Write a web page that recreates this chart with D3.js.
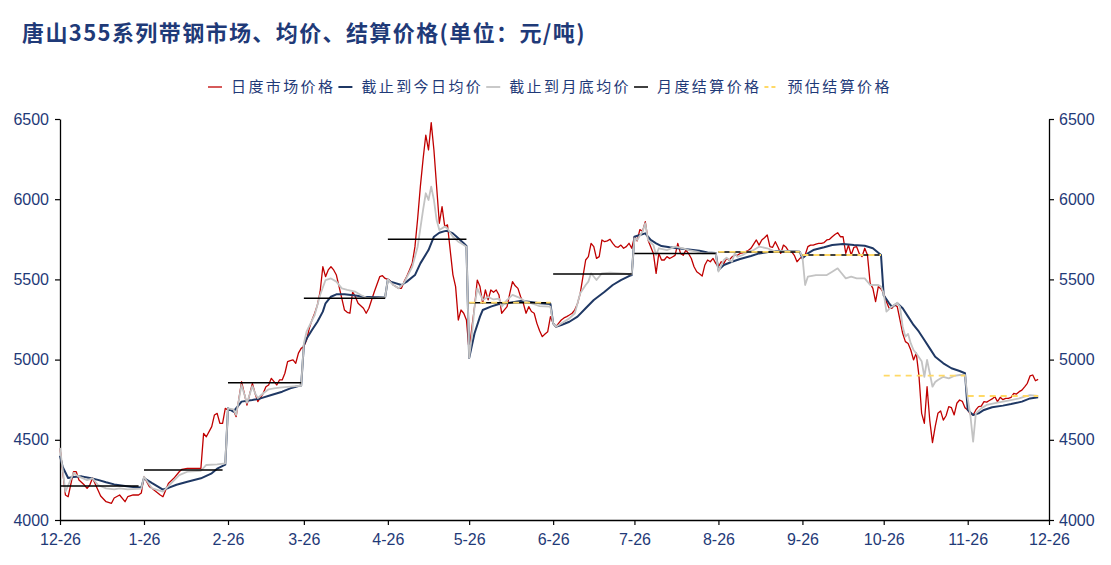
<!DOCTYPE html>
<html><head><meta charset="utf-8">
<script src="https://cdn.jsdelivr.net/npm/d3@7"></script>
<style>body{margin:0;background:#fff}svg{display:block}</style>
</head><body><svg id="c" width="1111" height="565"></svg>
<script>
const titleText = "唐山355系列带钢市场、均价、结算价格(单位：元/吨)";
const seriesNames = ["日度市场价格","截止到今日均价","截止到月底均价","月度结算价格","预估结算价格"];
const tickDates = ["2020-12-26","2021-01-26","2021-02-26","2021-03-26","2021-04-26","2021-05-26","2021-06-26","2021-07-26","2021-08-26","2021-09-26","2021-10-26","2021-11-26","2021-12-26"];
const yTicks = [4000,4500,5000,5500,6000,6500];

const dailyPrice = [
["2020-12-26",4449],["2020-12-28",4156],["2020-12-29",4145],["2020-12-31",4301],["2021-01-01",4301],["2021-01-02",4249],["2021-01-04",4218],["2021-01-05",4197],["2021-01-06",4218],["2021-01-07",4262],["2021-01-09",4187],["2021-01-10",4150],["2021-01-12",4114],["2021-01-14",4104],["2021-01-15",4137],["2021-01-17",4156],["2021-01-19",4114],["2021-01-20",4145],["2021-01-22",4156],["2021-01-24",4156],["2021-01-25",4168],
["2021-01-26",4270],["2021-01-28",4208],["2021-01-29",4197],["2021-02-01",4156],["2021-02-02",4145],["2021-02-04",4228],["2021-02-06",4260],["2021-02-08",4301],["2021-02-09",4316],["2021-02-11",4322],["2021-02-14",4322],["2021-02-16",4322],["2021-02-17",4540],["2021-02-18",4519],["2021-02-20",4582],["2021-02-21",4655],["2021-02-22",4665],["2021-02-23",4603],["2021-02-24",4603],["2021-02-25",4696],
["2021-02-26",4686],["2021-02-28",4686],["2021-03-01",4644],["2021-03-03",4862],["2021-03-05",4717],["2021-03-07",4852],["2021-03-08",4789],["2021-03-09",4738],["2021-03-11",4790],["2021-03-12",4831],["2021-03-13",4842],["2021-03-14",4883],["2021-03-16",4842],["2021-03-17",4873],["2021-03-18",4873],["2021-03-19",4915],["2021-03-20",4987],["2021-03-21",4993],["2021-03-22",4998],["2021-03-23",4977],["2021-03-24",5040],["2021-03-25",5070],
["2021-03-26",5081],["2021-03-27",5122],["2021-03-28",5195],["2021-03-29",5247],["2021-03-30",5289],["2021-03-31",5340],["2021-04-01",5423],["2021-04-02",5579],["2021-04-03",5517],["2021-04-04",5559],["2021-04-05",5579],["2021-04-06",5559],["2021-04-07",5527],["2021-04-08",5455],["2021-04-09",5382],["2021-04-10",5309],["2021-04-11",5295],["2021-04-12",5289],["2021-04-13",5423],["2021-04-14",5392],["2021-04-15",5351],["2021-04-17",5320],["2021-04-18",5289],["2021-04-19",5320],["2021-04-21",5423],["2021-04-23",5517],["2021-04-24",5523],["2021-04-25",5506],
["2021-04-26",5500],["2021-04-27",5490],["2021-04-28",5465],["2021-04-29",5455],["2021-04-30",5444],["2021-05-01",5444],["2021-05-02",5486],["2021-05-03",5520],["2021-05-04",5559],["2021-05-05",5600],["2021-05-06",5704],["2021-05-07",5880],["2021-05-08",6080],["2021-05-09",6250],["2021-05-10",6400],["2021-05-11",6307],["2021-05-12",6477],["2021-05-13",6307],["2021-05-14",6078],["2021-05-15",5850],["2021-05-16",5954],["2021-05-17",5829],["2021-05-18",5840],["2021-05-19",5683],["2021-05-20",5530],["2021-05-21",5455],["2021-05-22",5247],["2021-05-23",5309],["2021-05-24",5289],["2021-05-25",5247],
["2021-05-26",5050],["2021-05-27",5200],["2021-05-28",5330],["2021-05-29",5496],["2021-05-30",5455],["2021-05-31",5351],["2021-06-01",5434],["2021-06-02",5372],["2021-06-03",5434],["2021-06-04",5420],["2021-06-05",5434],["2021-06-06",5403],["2021-06-07",5289],["2021-06-08",5310],["2021-06-09",5330],["2021-06-10",5413],["2021-06-11",5486],["2021-06-12",5460],["2021-06-13",5444],["2021-06-14",5392],["2021-06-15",5351],["2021-06-16",5289],["2021-06-17",5330],["2021-06-18",5300],["2021-06-19",5289],["2021-06-20",5226],["2021-06-21",5180],["2021-06-22",5143],["2021-06-23",5160],["2021-06-24",5174],["2021-06-25",5268],
["2021-06-26",5226],["2021-06-27",5205],["2021-06-28",5226],["2021-06-29",5247],["2021-06-30",5260],["2021-07-01",5268],["2021-07-02",5278],["2021-07-03",5289],["2021-07-04",5310],["2021-07-05",5350],["2021-07-06",5413],["2021-07-07",5517],["2021-07-08",5621],["2021-07-09",5642],["2021-07-10",5725],["2021-07-11",5704],["2021-07-12",5631],["2021-07-13",5642],["2021-07-14",5746],["2021-07-15",5735],["2021-07-16",5740],["2021-07-17",5750],["2021-07-18",5725],["2021-07-19",5704],["2021-07-20",5700],["2021-07-21",5714],["2021-07-22",5694],["2021-07-23",5704],["2021-07-24",5725],["2021-07-25",5694],
["2021-07-26",5766],["2021-07-27",5740],["2021-07-28",5810],["2021-07-29",5800],["2021-07-30",5860],["2021-07-31",5746],["2021-08-01",5704],["2021-08-02",5662],["2021-08-03",5538],["2021-08-04",5662],["2021-08-05",5621],["2021-08-06",5621],["2021-08-07",5642],["2021-08-08",5630],["2021-08-09",5640],["2021-08-10",5650],["2021-08-11",5725],["2021-08-12",5662],["2021-08-13",5650],["2021-08-14",5683],["2021-08-15",5660],["2021-08-16",5630],["2021-08-17",5579],["2021-08-18",5548],["2021-08-19",5535],["2021-08-20",5521],["2021-08-21",5590],["2021-08-22",5621],["2021-08-23",5610],["2021-08-24",5631],["2021-08-25",5600],
["2021-08-26",5579],["2021-08-27",5610],["2021-08-28",5600],["2021-08-29",5631],["2021-08-30",5620],["2021-08-31",5640],["2021-09-01",5652],["2021-09-02",5650],["2021-09-03",5662],["2021-09-04",5665],["2021-09-05",5673],["2021-09-06",5680],["2021-09-07",5694],["2021-09-08",5720],["2021-09-09",5746],["2021-09-10",5714],["2021-09-11",5746],["2021-09-12",5760],["2021-09-13",5777],["2021-09-14",5704],["2021-09-15",5700],["2021-09-16",5735],["2021-09-17",5700],["2021-09-18",5662],["2021-09-19",5714],["2021-09-20",5700],["2021-09-21",5673],["2021-09-22",5673],["2021-09-23",5650],["2021-09-24",5610],["2021-09-25",5630],
["2021-09-26",5642],["2021-09-27",5652],["2021-09-28",5704],["2021-09-29",5714],["2021-09-30",5714],["2021-10-01",5720],["2021-10-02",5725],["2021-10-03",5725],["2021-10-04",5730],["2021-10-05",5746],["2021-10-06",5750],["2021-10-07",5766],["2021-10-08",5780],["2021-10-09",5791],["2021-10-10",5766],["2021-10-11",5766],["2021-10-12",5662],["2021-10-13",5714],["2021-10-14",5652],["2021-10-15",5700],["2021-10-16",5704],["2021-10-17",5660],["2021-10-18",5642],["2021-10-19",5694],["2021-10-20",5652],["2021-10-21",5475],["2021-10-22",5444],["2021-10-23",5361],["2021-10-24",5455],["2021-10-25",5440],
["2021-10-26",5413],["2021-10-27",5360],["2021-10-28",5320],["2021-10-29",5320],["2021-10-30",5340],["2021-10-31",5330],["2021-11-01",5247],["2021-11-02",5164],["2021-11-03",5112],["2021-11-04",5100],["2021-11-05",5060],["2021-11-06",4998],["2021-11-07",5040],["2021-11-08",4900],["2021-11-09",4665],["2021-11-10",4603],["2021-11-11",4831],["2021-11-12",4620],["2021-11-13",4482],["2021-11-14",4582],["2021-11-15",4665],["2021-11-16",4680],["2021-11-17",4623],["2021-11-18",4650],["2021-11-19",4707],["2021-11-20",4700],["2021-11-21",4655],["2021-11-22",4728],["2021-11-23",4748],["2021-11-24",4740],["2021-11-25",4700],
["2021-11-26",4686],["2021-11-27",4660],["2021-11-28",4655],["2021-11-29",4686],["2021-11-30",4707],["2021-12-01",4710],["2021-12-02",4738],["2021-12-03",4735],["2021-12-04",4745],["2021-12-05",4755],["2021-12-06",4769],["2021-12-07",4738],["2021-12-08",4765],["2021-12-09",4750],["2021-12-10",4758],["2021-12-11",4758],["2021-12-12",4765],["2021-12-13",4790],["2021-12-14",4785],["2021-12-15",4800],["2021-12-16",4810],["2021-12-17",4830],["2021-12-18",4852],["2021-12-19",4898],["2021-12-20",4904],["2021-12-21",4868],["2021-12-22",4877]
];

const avgToDate = [
["2020-12-26",4400],["2020-12-27",4330],["2020-12-29",4262],["2020-12-31",4268],["2021-01-03",4272],["2021-01-06",4262],["2021-01-09",4250],["2021-01-12",4235],["2021-01-15",4222],["2021-01-19",4212],["2021-01-22",4205],["2021-01-25",4203],
["2021-01-26",4262],["2021-01-29",4230],["2021-02-02",4190],["2021-02-04",4200],["2021-02-07",4220],["2021-02-11",4239],["2021-02-16",4260],["2021-02-20",4291],["2021-02-22",4320],["2021-02-25",4345],
["2021-02-26",4696],["2021-02-28",4675],["2021-03-03",4738],["2021-03-07",4748],["2021-03-10",4758],["2021-03-14",4779],["2021-03-18",4800],["2021-03-21",4821],["2021-03-24",4835],["2021-03-25",4838],
["2021-03-26",5090],["2021-03-27",5130],["2021-03-29",5184],["2021-03-31",5236],["2021-04-02",5299],["2021-04-03",5351],["2021-04-05",5392],["2021-04-07",5407],["2021-04-10",5407],["2021-04-14",5399],["2021-04-17",5392],["2021-04-21",5389],["2021-04-25",5389],
["2021-04-26",5500],["2021-04-27",5486],["2021-05-01",5465],["2021-05-03",5486],["2021-05-06",5527],["2021-05-08",5600],["2021-05-11",5683],["2021-05-13",5766],["2021-05-15",5791],["2021-05-17",5801],["2021-05-18",5803],["2021-05-20",5787],["2021-05-22",5756],["2021-05-24",5725],["2021-05-25",5708],
["2021-05-26",5010],["2021-05-28",5164],["2021-05-30",5268],["2021-05-31",5309],["2021-06-03",5330],["2021-06-06",5347],["2021-06-10",5355],["2021-06-14",5366],["2021-06-17",5361],["2021-06-21",5351],["2021-06-25",5347],
["2021-06-26",5226],["2021-06-27",5205],["2021-06-29",5216],["2021-07-02",5236],["2021-07-05",5268],["2021-07-08",5320],["2021-07-11",5372],["2021-07-15",5423],["2021-07-18",5465],["2021-07-21",5496],["2021-07-24",5521],["2021-07-25",5527],
["2021-07-26",5766],["2021-07-28",5777],["2021-07-30",5787],["2021-08-01",5746],["2021-08-03",5725],["2021-08-05",5708],["2021-08-08",5700],["2021-08-11",5694],["2021-08-15",5687],["2021-08-19",5678],["2021-08-22",5668],["2021-08-25",5665],
["2021-08-26",5559],["2021-08-28",5590],["2021-08-31",5610],["2021-09-03",5627],["2021-09-07",5646],["2021-09-10",5662],["2021-09-14",5673],["2021-09-18",5677],["2021-09-21",5677],["2021-09-25",5673],
["2021-09-26",5631],["2021-09-28",5662],["2021-09-30",5683],["2021-10-04",5700],["2021-10-07",5714],["2021-10-11",5721],["2021-10-15",5714],["2021-10-19",5710],["2021-10-22",5694],["2021-10-25",5652],
["2021-10-26",5400],["2021-10-28",5351],["2021-10-29",5330],["2021-10-30",5340],["2021-10-31",5351],["2021-11-02",5320],["2021-11-04",5268],["2021-11-06",5216],["2021-11-08",5174],["2021-11-10",5122],["2021-11-12",5070],["2021-11-14",5018],["2021-11-17",4977],["2021-11-20",4946],["2021-11-23",4929],["2021-11-25",4915],
["2021-11-26",4686],["2021-11-28",4655],["2021-11-30",4665],["2021-12-02",4686],["2021-12-05",4703],["2021-12-09",4713],["2021-12-12",4723],["2021-12-16",4738],["2021-12-19",4758],["2021-12-22",4765]
];

const avgToMonthEnd = [
["2020-12-26",4449],["2020-12-28",4177],["2020-12-31",4293],["2021-01-02",4270],["2021-01-05",4249],["2021-01-07",4260],["2021-01-09",4218],["2021-01-12",4197],["2021-01-15",4191],["2021-01-17",4197],["2021-01-20",4191],["2021-01-25",4195],
["2021-01-26",4270],["2021-01-29",4197],["2021-02-02",4177],["2021-02-05",4228],["2021-02-08",4280],["2021-02-11",4301],["2021-02-16",4307],["2021-02-18",4343],["2021-02-22",4347],["2021-02-25",4353],
["2021-02-26",4696],["2021-02-28",4690],["2021-03-01",4655],["2021-03-03",4842],["2021-03-05",4730],["2021-03-07",4835],["2021-03-08",4790],["2021-03-09",4760],["2021-03-11",4790],["2021-03-13",4815],["2021-03-15",4820],["2021-03-17",4825],["2021-03-20",4830],["2021-03-23",4835],["2021-03-25",4837],
["2021-03-26",5100],["2021-03-27",5174],["2021-03-30",5278],["2021-04-01",5403],["2021-04-03",5496],["2021-04-05",5506],["2021-04-07",5486],["2021-04-09",5444],["2021-04-11",5434],["2021-04-14",5423],["2021-04-16",5403],["2021-04-18",5387],["2021-04-21",5382],["2021-04-25",5389],
["2021-04-26",5500],["2021-04-28",5465],["2021-04-30",5444],["2021-05-02",5480],["2021-05-05",5579],["2021-05-07",5704],["2021-05-09",5933],["2021-05-10",6037],["2021-05-11",5995],["2021-05-12",6078],["2021-05-13",5995],["2021-05-14",5870],["2021-05-15",5808],["2021-05-17",5829],["2021-05-18",5818],["2021-05-20",5766],["2021-05-22",5735],["2021-05-23",5725],["2021-05-25",5704],
["2021-05-26",5010],["2021-05-27",5150],["2021-05-28",5330],["2021-05-29",5444],["2021-05-31",5372],["2021-06-02",5390],["2021-06-04",5375],["2021-06-06",5380],["2021-06-07",5330],["2021-06-09",5372],["2021-06-11",5403],["2021-06-13",5390],["2021-06-16",5361],["2021-06-19",5345],["2021-06-21",5334],["2021-06-25",5330],
["2021-06-26",5226],["2021-06-27",5205],["2021-06-29",5225],["2021-07-02",5257],["2021-07-04",5289],["2021-07-06",5413],["2021-07-08",5465],["2021-07-09",5486],["2021-07-10",5538],["2021-07-12",5496],["2021-07-14",5538],["2021-07-17",5542],["2021-07-21",5538],["2021-07-25",5532],
["2021-07-26",5756],["2021-07-27",5746],["2021-07-29",5798],["2021-07-30",5850],["2021-07-31",5746],["2021-08-02",5714],["2021-08-03",5652],["2021-08-04",5694],["2021-08-07",5683],["2021-08-10",5704],["2021-08-13",5694],["2021-08-15",5683],["2021-08-18",5673],["2021-08-20",5662],["2021-08-25",5664],
["2021-08-26",5548],["2021-08-28",5621],["2021-08-29",5635],["2021-08-31",5610],["2021-09-01",5662],["2021-09-02",5640],["2021-09-04",5652],["2021-09-06",5673],["2021-09-08",5683],["2021-09-10",5704],["2021-09-13",5694],["2021-09-16",5673],["2021-09-19",5678],["2021-09-23",5675],["2021-09-25",5673],
["2021-09-26",5642],["2021-09-27",5465],["2021-09-28",5517],["2021-10-01",5527],["2021-10-05",5527],["2021-10-07",5548],["2021-10-09",5569],["2021-10-10",5548],["2021-10-12",5506],["2021-10-14",5517],["2021-10-16",5506],["2021-10-19",5506],["2021-10-21",5465],["2021-10-24",5465],["2021-10-25",5455],
["2021-10-26",5413],["2021-10-27",5299],["2021-10-29",5330],["2021-10-31",5355],["2021-11-01",5330],["2021-11-02",5205],["2021-11-03",5143],["2021-11-04",5160],["2021-11-05",5101],["2021-11-06",5060],["2021-11-07",5039],["2021-11-09",4990],["2021-11-10",4893],["2021-11-11",4998],["2021-11-12",4915],["2021-11-13",4831],["2021-11-14",4860],["2021-11-15",4873],["2021-11-17",4893],["2021-11-19",4883],["2021-11-21",4898],["2021-11-23",4904],["2021-11-25",4904],
["2021-11-26",4760],["2021-11-27",4650],["2021-11-28",4488],["2021-11-29",4665],["2021-12-01",4696],["2021-12-03",4717],["2021-12-07",4732],["2021-12-12",4748],["2021-12-15",4758],["2021-12-17",4769],["2021-12-19",4779],["2021-12-22",4773]
];

const monthlySettle = [
["2020-12-26","2021-01-24",4212],["2021-01-26","2021-02-24",4312],["2021-02-26","2021-03-25",4855],["2021-03-26","2021-04-25",5382],["2021-04-26","2021-05-25",5750],["2021-05-26","2021-06-25",5355],["2021-06-26","2021-07-25",5534],["2021-07-26","2021-08-25",5662],["2021-08-26","2021-09-25",5671],["2021-09-26","2021-10-25",5652]
];
const estimatedSettle = [
["2021-05-26","2021-06-25",5355],["2021-08-26","2021-09-25",5671],["2021-09-26","2021-10-25",5652],["2021-10-26","2021-11-25",4900],["2021-11-26","2021-12-22",4773]
];

const colors = {red:"#c00000", navy:"#1f3864", gray:"#c3c3c3", black:"#000000", yellow:"#ffd966", text:"#1f3a78"};
const parse = d3.timeParse("%Y-%m-%d");
const svg = d3.select("#c");
const x = d3.scaleTime().domain([parse("2020-12-26"), parse("2021-12-26")]).range([60, 1049]);
const y = d3.scaleLinear().domain([4000, 6500]).range([520, 119]);
const line = d3.line().x(d => x(parse(d[0]))).y(d => y(d[1]));

svg.append("text").attr("x", 22).attr("y", 41)
  .attr("font-family", "'Noto Sans CJK SC', sans-serif").attr("font-weight", "bold")
  .attr("font-size", 22).attr("letter-spacing", 1.4).attr("fill", colors.text).text(titleText);

// axes
const fontAx = "'Liberation Sans', Arial, sans-serif";
function styleAxis(g){
  g.select(".domain").attr("stroke", "#000").attr("stroke-width", 1.3);
  g.selectAll(".tick line").attr("stroke", "#000").attr("stroke-width", 1.2);
  g.selectAll(".tick text").attr("fill", colors.text).attr("font-size", 16).attr("font-family", fontAx);
}
svg.append("g").attr("transform", "translate(60,0)")
  .call(d3.axisLeft(y).tickValues(yTicks).tickSize(5).tickPadding(6).tickSizeOuter(0).tickFormat(d3.format("d")))
  .call(styleAxis);
svg.append("g").attr("transform", "translate(1049,0)")
  .call(d3.axisRight(y).tickValues(yTicks).tickSize(5).tickPadding(5).tickSizeOuter(0).tickFormat(d3.format("d")))
  .call(styleAxis);
svg.append("g").attr("transform", "translate(0,520)")
  .call(d3.axisBottom(x).tickValues(tickDates.map(parse)).tickFormat(d3.timeFormat("%-m-%d")).tickSize(5).tickPadding(9).tickSizeOuter(0))
  .call(styleAxis);

const plot = svg.append("g");
plot.append("path").datum(dailyPrice).attr("d", line).attr("fill", "none").attr("stroke", colors.red).attr("stroke-width", 1.3).attr("stroke-linejoin", "round");
plot.append("path").datum(avgToDate).attr("d", line).attr("fill", "none").attr("stroke", colors.navy).attr("stroke-width", 2).attr("stroke-linejoin", "round");
plot.append("path").datum(avgToMonthEnd).attr("d", line).attr("fill", "none").attr("stroke", colors.gray).attr("stroke-width", 1.8).attr("stroke-linejoin", "round");
plot.selectAll(".settle").data(monthlySettle).join("line")
  .attr("x1", d => x(parse(d[0]))).attr("x2", d => x(parse(d[1])))
  .attr("y1", d => y(d[2])).attr("y2", d => y(d[2]))
  .attr("stroke", colors.black).attr("stroke-width", 1.5);
plot.selectAll(".est").data(estimatedSettle).join("line")
  .attr("x1", d => x(parse(d[0]))).attr("x2", d => x(parse(d[1])))
  .attr("y1", d => y(d[2])).attr("y2", d => y(d[2]))
  .attr("stroke", colors.yellow).attr("stroke-width", 1.8).attr("stroke-dasharray", "6,5");

// legend
const legendStyles = [
  {c: colors.red, w: 1.3, dash: null},
  {c: colors.navy, w: 2, dash: null},
  {c: colors.gray, w: 1.8, dash: null},
  {c: colors.black, w: 1.5, dash: null},
  {c: colors.yellow, w: 1.8, dash: "4,3"}
];
let lx = 208;
const ly = 87;
seriesNames.forEach((name, i) => {
  const s = legendStyles[i];
  svg.append("line").attr("x1", lx).attr("x2", lx + 14).attr("y1", ly).attr("y2", ly)
    .attr("stroke", s.c).attr("stroke-width", s.w).attr("stroke-dasharray", s.dash);
  const t = svg.append("text").attr("x", lx + 23).attr("y", ly + 5)
    .attr("font-family", "'Noto Sans CJK SC', sans-serif").attr("font-size", 15).attr("letter-spacing", 2.4)
    .attr("fill", colors.text).text(name);
  lx = lx + 23 + t.node().getComputedTextLength() + 3;
});
</script></body></html>
